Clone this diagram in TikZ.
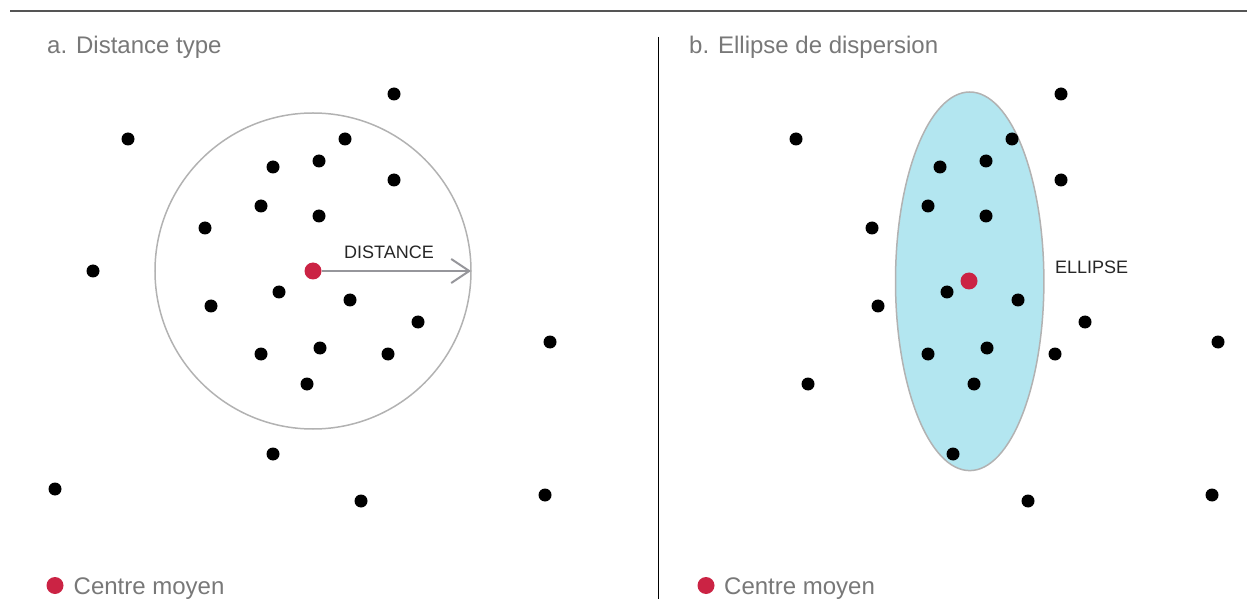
\documentclass[tikz,border=0pt]{standalone}
\usepackage{fontspec}
\setmainfont{Liberation Sans}
\usetikzlibrary{arrows.meta}
\definecolor{crimson}{RGB}{203,35,68}
\definecolor{titlegray}{RGB}{120,120,120}
\definecolor{ringgray}{RGB}{178,178,178}
\definecolor{arrowgray}{RGB}{150,150,155}
\definecolor{ellfill}{RGB}{179,230,240}
\definecolor{rulegray}{RGB}{85,85,85}
\begin{document}
\begin{tikzpicture}[x=1bp,y=-1bp,
  dot/.style={circle,fill=black,inner sep=0pt,minimum size=13bp},
  mean/.style={circle,fill=crimson,inner sep=0pt,minimum size=17bp},
  title/.style={anchor=base west,inner sep=0pt,text=titlegray,font=\fontsize{24bp}{28bp}\selectfont},
  legend/.style={anchor=base west,inner sep=0pt,text=titlegray,font=\fontsize{24bp}{28bp}\selectfont},
  lbl/.style={anchor=base west,inner sep=0pt,text=black!85,font=\fontsize{18bp}{21bp}\selectfont}]
\useasboundingbox (0,0) rectangle (1247,611);
% top rule and divider
\coordinate (ruleL) at (10,11);
\coordinate (ruleR) at (1247,11);
\draw[rulegray,line width=2bp] (ruleL) -- (ruleR);
\coordinate (divT) at (658.5,37);
\coordinate (divB) at (658.5,599);
\draw[black,line width=1.8bp] (divT) -- (divB);
% titles
\node[title] (ta) at (47,54) {a. Distance type};
\node[title] (tb) at (689,54) {b. Ellipse de dispersion};
% panel a: circle
\node[circle,draw=ringgray,line width=1.5bp,minimum size=316bp,inner sep=0pt] (ring) at (313,271) {};
% panel b: ellipse
\draw[draw=ringgray,fill=ellfill,line width=1.5bp] (969.7,281.3) ellipse [x radius=74.2, y radius=189.3];
% panel a dots
\foreach \n/\x/\y in {a1/394/94, a2/128/139, a3/345/139, a4/273/167, a5/319/161, a6/394/180,
  a7/261/206, a8/319/216, a9/205/228, a10/93/271, a11/279/292, a12/350/300, a13/211/306,
  a14/418/322, a15/550/342, a16/261/354, a17/320/348, a18/388/354, a19/307/384,
  a20/273/454, a21/55/489, a22/361/501, a23/545/495}
  \node[dot] (\n) at (\x,\y) {};
\node[mean] (ma) at (313,271) {};
\coordinate (edge) at (471,271);
\draw[arrowgray,line width=2.5bp,-{Straight Barb[length=18bp,width=24bp,line width=2bp]}] (ma) -- (edge);
\node[lbl] (dist) at (344,259) {DISTANCE};
% panel b dots
\foreach \n/\x/\y in {b1/1061/94, b2/796/139, b3/1012/139, b4/940/167, b5/986/161, b6/1061/180,
  b7/928/206, b8/986/216, b9/872/228, b10/947/292, b11/1018/300, b12/878/306, b13/1085/322,
  b14/1218/342, b15/928/354, b16/987/348, b17/1055/354, b18/974/384, b19/808/384,
  b20/953/454, b21/1028/501, b22/1212/495}
  \node[dot] (\n) at (\x,\y) {};
\node[mean] (mb) at (969,281) {};
\node[lbl] (ell) at (1055,274) {ELLIPSE};
% legends
\node[mean] (la) at (55,585.5) {};
\node[legend] (lta) at (73.5,594) {Centre moyen};
\node[mean] (lb) at (706,585.5) {};
\node[legend] (ltb) at (724,594) {Centre moyen};
\end{tikzpicture}
\end{document}
